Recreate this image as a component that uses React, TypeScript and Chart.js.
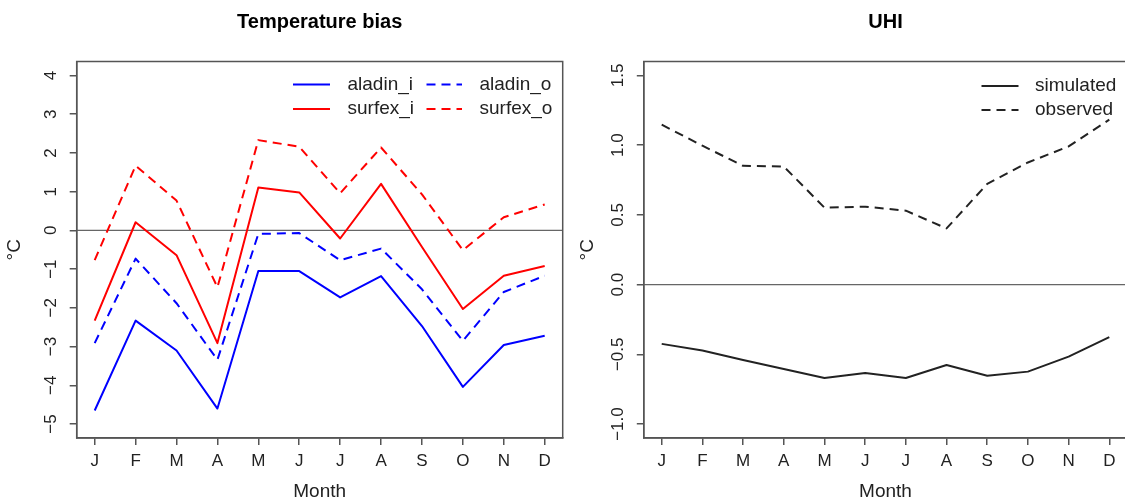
import React, { useEffect, useRef } from "react";
import { Chart, registerables } from "chart.js";

Chart.register(...registerables);

const FONT = "'Liberation Sans', Arial, Helvetica, sans-serif";

// ---- data ----
const months = ["J", "F", "M", "A", "M", "J", "J", "A", "S", "O", "N", "D"];
const aladinI = [-4.65, -2.33, -3.1, -4.6, -1.05, -1.05, -1.73, -1.18, -2.47, -4.04, -2.96, -2.72];
const aladinO = [-2.91, -0.73, -1.88, -3.34, -0.09, -0.07, -0.77, -0.47, -1.52, -2.85, -1.59, -1.17];
const surfexI = [-2.33, 0.21, -0.64, -2.91, 1.11, 0.98, -0.21, 1.2, -0.43, -2.03, -1.17, -0.92];
const surfexO = [-0.77, 1.67, 0.77, -1.47, 2.33, 2.16, 0.96, 2.14, 0.93, -0.51, 0.34, 0.67];
const uhiSimulated = [-0.425, -0.473, -0.54, -0.605, -0.67, -0.634, -0.67, -0.576, -0.653, -0.624, -0.516, -0.377];
const uhiObserved = [1.147, 0.996, 0.852, 0.847, 0.552, 0.559, 0.53, 0.403, 0.722, 0.876, 0.991, 1.183];
const biasTicks = [-5, -4, -3, -2, -1, 0, 1, 2, 3, 4];
const uhiTicks = [-1, -0.5, 0, 0.5, 1, 1.5];

const AXIS = "#555";
const TEXT = "#222";
const DASH = [9, 6];

type LegendItem = { label: string; color: string; dash: number[]; x1: number; x2: number; tx: number; y: number };

function toPts(vals: number[]) {
  return vals.map((v, i) => ({ x: i + 1, y: v }));
}

function minusFmt(s: string) {
  return s.replace("-", "\u2212");
}

function makePlugin(ticks: number[], fmt: (v: number) => string, legend: LegendItem[], labelOffset: number) {
  return {
    id: "rstyle",
    beforeDatasetsDraw(chart: any) {
      const { ctx, chartArea } = chart;
      const y0 = chart.scales.y.getPixelForValue(0);
      ctx.save();
      ctx.strokeStyle = "#666";
      ctx.lineWidth = 1.2;
      ctx.beginPath();
      ctx.moveTo(chartArea.left, y0);
      ctx.lineTo(chartArea.right, y0);
      ctx.stroke();
      ctx.restore();
    },
    afterDraw(chart: any) {
      const { ctx, chartArea } = chart;
      const ys = chart.scales.y;
      ctx.save();
      // box
      ctx.strokeStyle = AXIS;
      ctx.lineWidth = 1.5;
      ctx.strokeRect(chartArea.left, chartArea.top, chartArea.right - chartArea.left, chartArea.bottom - chartArea.top);
      // rotated y tick labels
      ctx.fillStyle = TEXT;
      ctx.font = `17px ${FONT}`;
      ctx.textAlign = "center";
      ctx.textBaseline = "middle";
      for (const t of ticks) {
        const py = ys.getPixelForValue(t);
        ctx.save();
        ctx.translate(chartArea.left - labelOffset, py);
        ctx.rotate(-Math.PI / 2);
        ctx.fillText(fmt(t), 0, 0);
        ctx.restore();
      }
      // legend
      ctx.font = `19px ${FONT}`;
      ctx.textAlign = "left";
      for (const it of legend) {
        ctx.strokeStyle = it.color;
        ctx.lineWidth = 2;
        ctx.setLineDash(it.dash);
        ctx.beginPath();
        ctx.moveTo(it.x1, it.y);
        ctx.lineTo(it.x2, it.y);
        ctx.stroke();
        ctx.setLineDash([]);
        ctx.fillStyle = TEXT;
        ctx.fillText(it.label, it.tx, it.y);
      }
      ctx.restore();
    },
  };
}

function lineDs(label: string, vals: number[], color: string, dashed: boolean) {
  return {
    label,
    data: toPts(vals),
    borderColor: color,
    backgroundColor: color,
    borderWidth: 2,
    borderDash: dashed ? DASH : [],
    pointRadius: 0,
    tension: 0,
    fill: false,
    borderJoinStyle: "round" as const,
  };
}

function makeConfig(p: {
  title: string;
  datasets: any[];
  yMin: number;
  yMax: number;
  ticks: number[];
  fmt: (v: number) => string;
  legend: LegendItem[];
  yWidth: number;
  padRight: number;
  yTitlePad: number;
}) {
  return {
    type: "line" as const,
    data: { datasets: p.datasets },
    plugins: [makePlugin(p.ticks, p.fmt, p.legend, 25)],
    options: {
      responsive: false,
      animation: false as const,
      events: [],
      layout: { padding: { left: 0, right: p.padRight, top: 0, bottom: 0 } },
      plugins: {
        legend: { display: false },
        tooltip: { enabled: false },
        title: {
          display: true,
          text: p.title,
          fullSize: false,
          color: "#000",
          font: { size: 20, weight: "bold" as const, family: FONT, lineHeight: 1.2 },
          padding: { top: 10.2, bottom: 27.3 },
        },
      },
      scales: {
        x: {
          type: "linear" as const,
          min: 0.56,
          max: 12.44,
          afterBuildTicks: (s: any) => {
            s.ticks = months.map((_, i) => ({ value: i + 1 }));
          },
          afterFit: (s: any) => {
            s.height = 61;
          },
          ticks: {
            callback: (_v: any, i: number) => months[i],
            font: { size: 17, family: FONT },
            color: TEXT,
            padding: 6,
            maxRotation: 0,
            minRotation: 0,
            autoSkip: false,
          },
          grid: { display: true, drawOnChartArea: false, drawTicks: true, tickLength: 7, color: AXIS, lineWidth: 1.5 },
          border: { display: true, color: AXIS, width: 1.5 },
          title: {
            display: true,
            text: "Month",
            color: TEXT,
            font: { size: 19, family: FONT, lineHeight: 0.75 },
            padding: { top: 0, bottom: 0 },
          },
        },
        y: {
          type: "linear" as const,
          min: p.yMin,
          max: p.yMax,
          afterBuildTicks: (s: any) => {
            s.ticks = p.ticks.map((v) => ({ value: v }));
          },
          afterFit: (s: any) => {
            s.width = p.yWidth;
          },
          ticks: { display: false },
          grid: { display: true, drawOnChartArea: false, drawTicks: true, tickLength: 7, color: AXIS, lineWidth: 1.5 },
          border: { display: true, color: AXIS, width: 1.5 },
          title: {
            display: true,
            text: "\u00B0C",
            color: TEXT,
            font: { size: 19, family: FONT, lineHeight: 1.2 },
            padding: { top: p.yTitlePad, bottom: 0 },
          },
        },
      },
    },
  };
}

function ChartCanvas({ config, width, height, left }: { config: any; width: number; height: number; left: number }) {
  const ref = useRef<HTMLCanvasElement | null>(null);
  useEffect(() => {
    if (!ref.current) return;
    const chart = new Chart(ref.current, config);
    return () => chart.destroy();
  }, [config]);
  return (
    <canvas
      ref={ref}
      width={width}
      height={height}
      style={{ position: "absolute", left, top: 0, width, height, display: "block" }}
    />
  );
}

const biasConfig = makeConfig({
  title: "Temperature bias",
  datasets: [
    lineDs("aladin_i", aladinI, "#0000ff", false),
    lineDs("aladin_o", aladinO, "#0000ff", true),
    lineDs("surfex_i", surfexI, "#ff0000", false),
    lineDs("surfex_o", surfexO, "#ff0000", true),
  ],
  yMin: -5.36,
  yMax: 4.36,
  ticks: biasTicks,
  fmt: (v) => minusFmt(String(v)),
  legend: [
    { label: "aladin_i", color: "#0000ff", dash: [], x1: 293, x2: 330, tx: 347.5, y: 84.5 },
    { label: "aladin_o", color: "#0000ff", dash: DASH, x1: 426.5, x2: 462, tx: 479.5, y: 84.5 },
    { label: "surfex_i", color: "#ff0000", dash: [], x1: 293, x2: 330, tx: 347.5, y: 109 },
    { label: "surfex_o", color: "#ff0000", dash: DASH, x1: 426.5, x2: 462, tx: 479.5, y: 109 },
  ],
  yWidth: 76.7,
  padRight: 7.3,
  yTitlePad: 3.6,
});

const uhiConfig = makeConfig({
  title: "UHI",
  datasets: [
    lineDs("simulated", uhiSimulated, "#222222", false),
    lineDs("observed", uhiObserved, "#222222", true),
  ],
  yMin: -1.1,
  yMax: 1.6,
  ticks: uhiTicks,
  fmt: (v) => minusFmt(v.toFixed(1)),
  legend: [
    { label: "simulated", color: "#222222", dash: [], x1: 411.5, x2: 448.5, tx: 465, y: 86 },
    { label: "observed", color: "#222222", dash: DASH, x1: 411.5, x2: 448.5, tx: 465, y: 110 },
  ],
  yWidth: 73.8,
  padRight: 7.8,
  yTitlePad: 6.6,
});

export default function App() {
  return (
    <div
      style={{
        position: "fixed",
        left: 0,
        top: 0,
        width: 1125,
        height: 499,
        overflow: "hidden",
        background: "#fff",
      }}
    >
      <ChartCanvas config={biasConfig} width={570} height={499} left={0} />
      <ChartCanvas config={uhiConfig} width={565} height={499} left={570} />
    </div>
  );
}
